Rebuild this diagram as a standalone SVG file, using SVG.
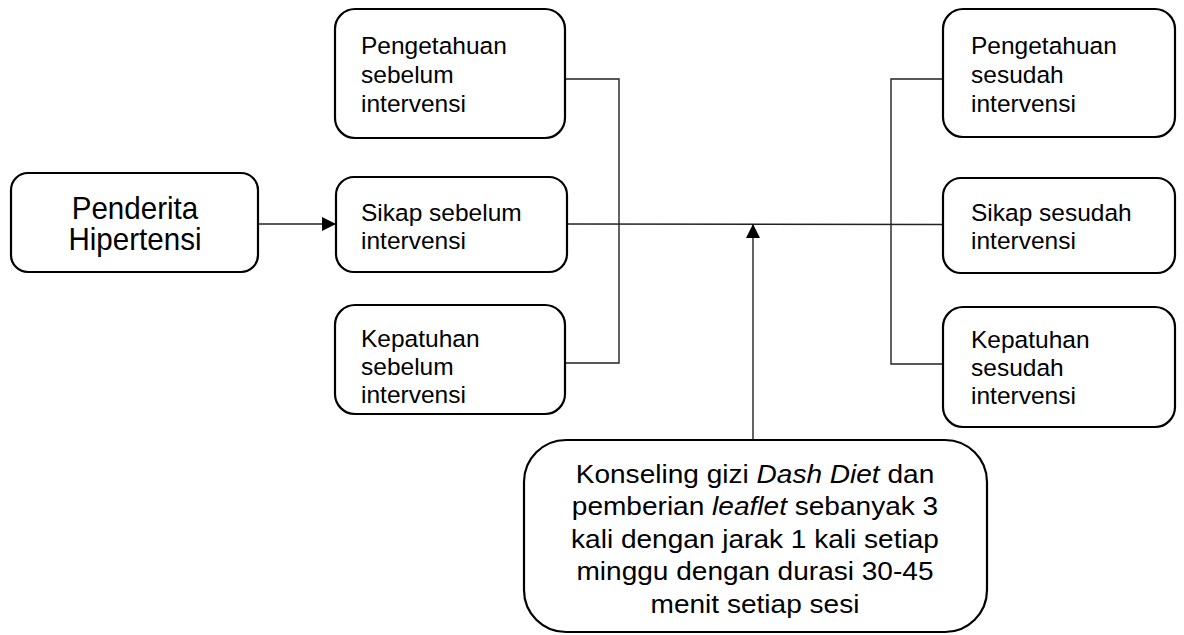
<svg xmlns="http://www.w3.org/2000/svg" width="1184" height="635" viewBox="0 0 1184 635">
<defs>
<style>
.box{fill:#fff;stroke:#000;stroke-width:2.2}
.t{font-family:"Liberation Sans",Arial,sans-serif;font-size:24.5px;fill:#000}
.tb{font-family:"Liberation Sans",Arial,sans-serif;font-size:30.5px;fill:#000;text-anchor:middle}
.tk{font-family:"Liberation Sans",Arial,sans-serif;font-size:25.5px;fill:#000;text-anchor:middle}
.c{fill:none;stroke:#222;stroke-width:1.4}
</style>
<marker id="ah" viewBox="0 0 14 14" refX="14" refY="7" markerWidth="14" markerHeight="14" markerUnits="userSpaceOnUse" orient="auto">
<path d="M0,0 L14,7 L0,14 Z" fill="#000"/>
</marker>
</defs>
<rect width="1184" height="635" fill="#fff"/>
<g id="connectors">
<line class="c" x1="259" y1="224" x2="336" y2="224" marker-end="url(#ah)"/>
<polyline class="c" points="565,79 619,79 619,363 565,363"/>
<polyline class="c" points="943,79 891,79 891,364 943,364"/>
<line class="c" x1="567" y1="224" x2="943" y2="224.5"/>
<line class="c" x1="753" y1="440" x2="753" y2="224" marker-end="url(#ah)"/>
</g>
<g id="penderita">
<rect class="box" x="11" y="173" width="247" height="99" rx="17"/>
<g transform="translate(4.05,0) scale(0.97,1)">
<text class="tb" x="135" y="219">Penderita</text>
<text class="tb" x="135" y="250">Hipertensi</text>
</g>
</g>
<g id="pengetahuan-sebelum">
<rect class="box" x="335" y="9" width="230" height="129" rx="20"/>
<text class="t" x="361" y="54">Pengetahuan</text>
<text class="t" x="361" y="83">sebelum</text>
<text class="t" x="361" y="112">intervensi</text>
</g>
<g id="sikap-sebelum">
<rect class="box" x="336" y="177" width="231" height="95" rx="18"/>
<text class="t" x="361" y="221">Sikap sebelum</text>
<text class="t" x="361" y="249">intervensi</text>
</g>
<g id="kepatuhan-sebelum">
<rect class="box" x="335" y="305" width="230" height="109" rx="20"/>
<text class="t" x="361" y="347">Kepatuhan</text>
<text class="t" x="361" y="375">sebelum</text>
<text class="t" x="361" y="403">intervensi</text>
</g>
<g id="pengetahuan-sesudah">
<rect class="box" x="943" y="9" width="232" height="128" rx="20"/>
<text class="t" x="971" y="54">Pengetahuan</text>
<text class="t" x="971" y="83">sesudah</text>
<text class="t" x="971" y="112">intervensi</text>
</g>
<g id="sikap-sesudah">
<rect class="box" x="943" y="178" width="232" height="95" rx="18"/>
<text class="t" x="971" y="221">Sikap sesudah</text>
<text class="t" x="971" y="249">intervensi</text>
</g>
<g id="kepatuhan-sesudah">
<rect class="box" x="943" y="307" width="232" height="120" rx="20"/>
<text class="t" x="971" y="348">Kepatuhan</text>
<text class="t" x="971" y="376">sesudah</text>
<text class="t" x="971" y="404">intervensi</text>
</g>
<g id="konseling">
<rect class="box" x="524" y="440" width="463" height="192" rx="42"/>
<g transform="translate(-75.5,0) scale(1.1,1)">
<text class="tk" x="755" y="483">Konseling gizi <tspan font-style="italic">Dash Diet</tspan> dan</text>
<text class="tk" x="755" y="515.5">pemberian <tspan font-style="italic">leaflet</tspan> sebanyak 3</text>
<text class="tk" x="755" y="548">kali dengan jarak 1 kali setiap</text>
<text class="tk" x="755" y="580.5">minggu dengan durasi 30-45</text>
<text class="tk" x="755" y="613">menit setiap sesi</text>
</g>
</g>
</svg>
